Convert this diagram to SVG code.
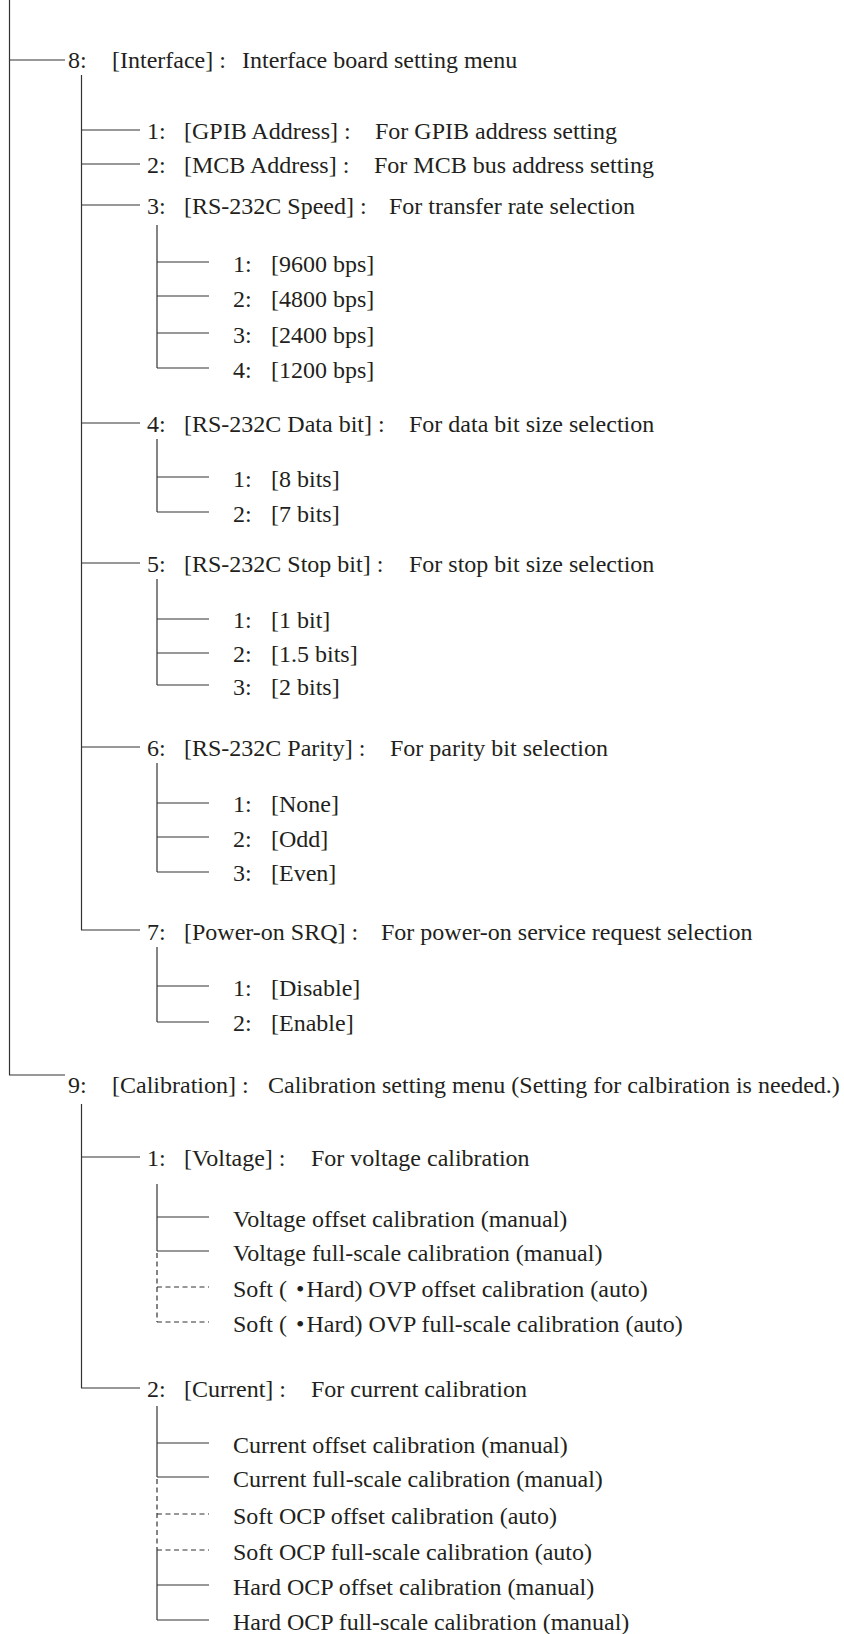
<svg xmlns="http://www.w3.org/2000/svg" width="844" height="1634" viewBox="0 0 844 1634">
<style>
text{font-family:"Liberation Serif","Times New Roman",serif;font-size:24px;fill:#231f20}
.c line{stroke:#333;stroke-width:1.2;fill:none}
.c .d{stroke-dasharray:5 3.5}
</style>
<rect width="844" height="1634" fill="#fff"/>
<g class="c" id="connectors">
<line x1="9.5" y1="0" x2="9.5" y2="1075"/>
<line x1="9" y1="60" x2="65" y2="60"/>
<line x1="9" y1="1075" x2="65" y2="1075"/>
<line x1="81.5" y1="75" x2="81.5" y2="930"/>
<line x1="81" y1="130" x2="140" y2="130"/>
<line x1="81" y1="164" x2="140" y2="164"/>
<line x1="81" y1="205" x2="140" y2="205"/>
<line x1="81" y1="423" x2="140" y2="423"/>
<line x1="81" y1="563" x2="140" y2="563"/>
<line x1="81" y1="747" x2="140" y2="747"/>
<line x1="81" y1="930" x2="140" y2="930"/>
<line x1="157" y1="225" x2="157" y2="368"/>
<line x1="157" y1="262" x2="209" y2="262"/>
<line x1="157" y1="296" x2="209" y2="296"/>
<line x1="157" y1="333" x2="209" y2="333"/>
<line x1="157" y1="368" x2="209" y2="368"/>
<line x1="157" y1="439" x2="157" y2="512"/>
<line x1="157" y1="477" x2="209" y2="477"/>
<line x1="157" y1="512" x2="209" y2="512"/>
<line x1="157" y1="579" x2="157" y2="685"/>
<line x1="157" y1="619" x2="209" y2="619"/>
<line x1="157" y1="653" x2="209" y2="653"/>
<line x1="157" y1="685" x2="209" y2="685"/>
<line x1="157" y1="763" x2="157" y2="872"/>
<line x1="157" y1="803" x2="209" y2="803"/>
<line x1="157" y1="837" x2="209" y2="837"/>
<line x1="157" y1="872" x2="209" y2="872"/>
<line x1="157" y1="947" x2="157" y2="1022"/>
<line x1="157" y1="986" x2="209" y2="986"/>
<line x1="157" y1="1022" x2="209" y2="1022"/>
<line x1="81.5" y1="1104" x2="81.5" y2="1388"/>
<line x1="81" y1="1157" x2="140" y2="1157"/>
<line x1="81" y1="1388" x2="140" y2="1388"/>
<line x1="157" y1="1184" x2="157" y2="1251"/>
<line x1="157" y1="1217" x2="209" y2="1217"/>
<line x1="157" y1="1251" x2="209" y2="1251"/>
<line class="d" x1="157" y1="1253" x2="157" y2="1322"/>
<line class="d" x1="157" y1="1287" x2="209" y2="1287"/>
<line class="d" x1="157" y1="1322" x2="209" y2="1322"/>
<line x1="157" y1="1406" x2="157" y2="1477"/>
<line x1="157" y1="1443" x2="209" y2="1443"/>
<line x1="157" y1="1477" x2="209" y2="1477"/>
<line class="d" x1="157" y1="1479" x2="157" y2="1550"/>
<line class="d" x1="157" y1="1514" x2="209" y2="1514"/>
<line class="d" x1="157" y1="1550" x2="209" y2="1550"/>
<line x1="157" y1="1550" x2="157" y2="1620"/>
<line x1="157" y1="1585" x2="209" y2="1585"/>
<line x1="157" y1="1620" x2="209" y2="1620"/>
</g>
<g id="n8"><text x="68" y="68">8:</text><text x="112" y="68">[Interface] :</text><text x="242" y="68">Interface board setting menu</text></g>
<g id="n8-1"><text x="147" y="139">1:</text><text x="184" y="139">[GPIB Address] :</text><text x="375" y="139">For GPIB address setting</text></g>
<g id="n8-2"><text x="147" y="173">2:</text><text x="184" y="173">[MCB Address] :</text><text x="374" y="173">For MCB bus address setting</text></g>
<g id="n8-3"><text x="147" y="214">3:</text><text x="184" y="214">[RS-232C Speed] :</text><text x="389" y="214">For transfer rate selection</text></g>
<g id="n8-3-1"><text x="233" y="272">1:</text><text x="271" y="272">[9600 bps]</text></g>
<g id="n8-3-2"><text x="233" y="307">2:</text><text x="271" y="307">[4800 bps]</text></g>
<g id="n8-3-3"><text x="233" y="343">3:</text><text x="271" y="343">[2400 bps]</text></g>
<g id="n8-3-4"><text x="233" y="378">4:</text><text x="271" y="378">[1200 bps]</text></g>
<g id="n8-4"><text x="147" y="432">4:</text><text x="184" y="432">[RS-232C Data bit] :</text><text x="409" y="432">For data bit size selection</text></g>
<g id="n8-4-1"><text x="233" y="487">1:</text><text x="271" y="487">[8 bits]</text></g>
<g id="n8-4-2"><text x="233" y="522">2:</text><text x="271" y="522">[7 bits]</text></g>
<g id="n8-5"><text x="147" y="572">5:</text><text x="184" y="572">[RS-232C Stop bit] :</text><text x="409" y="572">For stop bit size selection</text></g>
<g id="n8-5-1"><text x="233" y="628">1:</text><text x="271" y="628">[1 bit]</text></g>
<g id="n8-5-2"><text x="233" y="662">2:</text><text x="271" y="662">[1.5 bits]</text></g>
<g id="n8-5-3"><text x="233" y="695">3:</text><text x="271" y="695">[2 bits]</text></g>
<g id="n8-6"><text x="147" y="756">6:</text><text x="184" y="756">[RS-232C Parity] :</text><text x="390" y="756">For parity bit selection</text></g>
<g id="n8-6-1"><text x="233" y="812">1:</text><text x="271" y="812">[None]</text></g>
<g id="n8-6-2"><text x="233" y="847">2:</text><text x="271" y="847">[Odd]</text></g>
<g id="n8-6-3"><text x="233" y="881">3:</text><text x="271" y="881">[Even]</text></g>
<g id="n8-7"><text x="147" y="940">7:</text><text x="184" y="940">[Power-on SRQ] :</text><text x="381" y="940">For power-on service request selection</text></g>
<g id="n8-7-1"><text x="233" y="996">1:</text><text x="271" y="996">[Disable]</text></g>
<g id="n8-7-2"><text x="233" y="1031">2:</text><text x="271" y="1031">[Enable]</text></g>
<g id="n9"><text x="68" y="1093">9:</text><text x="112" y="1093">[Calibration] :</text><text x="268" y="1093">Calibration setting menu (Setting for calbiration is needed.)</text></g>
<g id="n9-1"><text x="147" y="1166">1:</text><text x="184" y="1166">[Voltage] :</text><text x="311" y="1166">For voltage calibration</text></g>
<g id="n9-1-a"><text x="233" y="1227">Voltage offset calibration (manual)</text></g>
<g id="n9-1-b"><text x="233" y="1261">Voltage full-scale calibration (manual)</text></g>
<g id="n9-1-c"><text x="233" y="1297">Soft ( <tspan dx="3">•</tspan><tspan dx="2">Hard) OVP offset calibration (auto)</tspan></text></g>
<g id="n9-1-d"><text x="233" y="1332">Soft ( <tspan dx="3">•</tspan><tspan dx="2">Hard) OVP full-scale calibration (auto)</tspan></text></g>
<g id="n9-2"><text x="147" y="1397">2:</text><text x="184" y="1397">[Current] :</text><text x="311" y="1397">For current calibration</text></g>
<g id="n9-2-a"><text x="233" y="1453">Current offset calibration (manual)</text></g>
<g id="n9-2-b"><text x="233" y="1487">Current full-scale calibration (manual)</text></g>
<g id="n9-2-c"><text x="233" y="1524">Soft OCP offset calibration (auto)</text></g>
<g id="n9-2-d"><text x="233" y="1560">Soft OCP full-scale calibration (auto)</text></g>
<g id="n9-2-e"><text x="233" y="1595">Hard OCP offset calibration (manual)</text></g>
<g id="n9-2-f"><text x="233" y="1630">Hard OCP full-scale calibration (manual)</text></g>
</svg>
